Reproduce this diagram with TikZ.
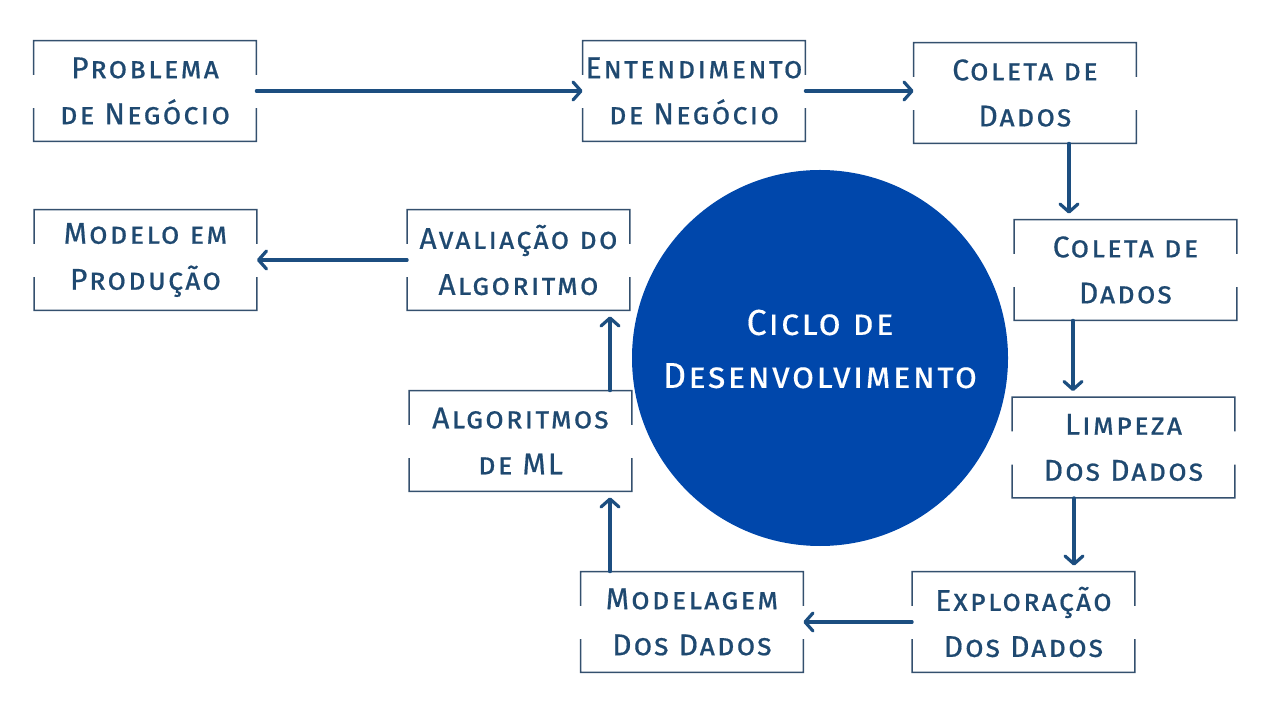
\documentclass[tikz,border=0pt]{standalone}
\usepackage{fontspec}
\setmainfont{Fira Sans}[LetterSpace=7,FakeBold=0.6]
\newfontfamily\ringfont{Fira Sans}[LetterSpace=6,FakeBold=0.3]
\usetikzlibrary{arrows.meta, calc}
\definecolor{mnavy}{RGB}{31,73,112}
\definecolor{mframe}{RGB}{52,80,110}
\definecolor{marrow}{RGB}{28,78,128}
\definecolor{mcobalt}{RGB}{0,71,171}

\begin{document}
\begin{tikzpicture}[x=0.5pt,y=-0.5pt,
    stage/.style={minimum width=111pt,minimum height=50pt,inner sep=0pt,align=center,
      text=mnavy,font=\fontsize{15}{23}\selectfont\scshape},
    flow/.style={draw=marrow,line width=1.6pt,line cap=round,
      -{Straight Barb[round,length=4pt,width=9pt]}},
    frame/.style={draw=mframe,line width=0.7pt}]
  \useasboundingbox (0,0) rectangle (1272,704);
  % the cycle in the middle
  \node[circle,fill=mcobalt,minimum size=188pt,inner sep=0pt] (cycle) at (820,358) {};
  \node[align=center,text=white,yshift=4.5pt,
    font=\ringfont\fontsize{18}{26.5}\selectfont\scshape] (cycletext) at (cycle) {Ciclo de\\Desenvolvimento};
  \node[stage] (prob) at (145,91) {Problema\\de Negócio};
  \node[stage] (ent) at (694,91) {Entendimento\\de Negócio};
  \node[stage] (col1) at (1025,93) {Coleta de\\Dados};
  \node[stage] (col2) at (1125.5,270) {Coleta de\\Dados};
  \node[stage] (limp) at (1123.5,447.5) {Limpeza\\Dos Dados};
  \node[stage] (expl) at (1023.5,622) {Exploração\\Dos Dados};
  \node[stage] (mod) at (692,622) {Modelagem\\Dos Dados};
  \node[stage] (alg) at (520.5,441) {Algoritmos\\de ML};
  \node[stage] (aval) at (518.5,260) {Avaliação do\\Algoritmo};
  \node[stage] (prod) at (145.5,260) {Modelo em\\Produção};
  % note that the sides of each frame are left open in the middle
  \foreach \n in {prob,ent,col1,col2,limp,expl,mod,alg,aval,prod}{
    \draw[frame] ($(\n.north west)!0.34!(\n.south west)$) -- (\n.north west)
      -- (\n.north east) -- ($(\n.north east)!0.34!(\n.south east)$);
    \draw[frame] ($(\n.south west)!0.33!(\n.north west)$) -- (\n.south west)
      -- (\n.south east) -- ($(\n.south east)!0.33!(\n.north east)$);
  }
  \draw[flow] (prob.east) -- (ent.west);
  \draw[flow] (ent.east) -- (ent.east -| col1.west);
  \draw[flow,shorten >=3pt] ([xshift=22pt]col1.south) -- ([xshift=-28.25pt]col2.north);
  \draw[flow,shorten >=3pt] ([xshift=-26.25pt]col2.south) -- ([xshift=-25.25pt]limp.north);
  \draw[flow,shorten >=3pt] ([xshift=-24.75pt]limp.south) -- ([xshift=25.25pt]expl.north);
  \draw[flow] (expl.west) -- (mod.east);
  \draw[flow,shorten >=3pt] ([xshift=-41pt]mod.north) -- ([xshift=44.75pt]alg.south);
  \draw[flow,shorten >=3pt] ([xshift=44.75pt]alg.north) -- ([xshift=45.75pt]aval.south);
  \draw[flow] (aval.west) -- (prod.east);
\end{tikzpicture}
\end{document}
